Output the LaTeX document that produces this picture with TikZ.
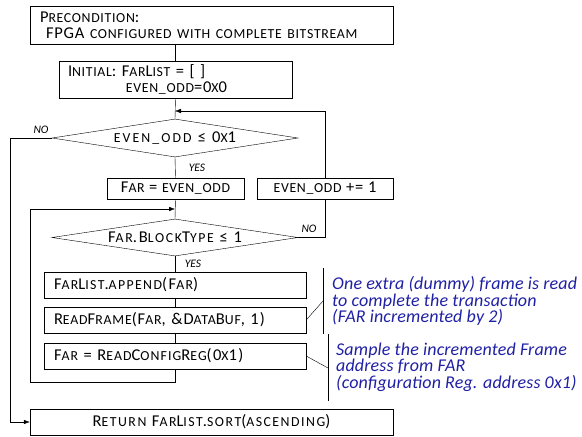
\documentclass[tikz,border=0pt]{standalone}
\usepackage{fontspec}
\setmainfont{Carlito}[LetterSpace=5]
\newfontfamily\notefont{Carlito}
\usetikzlibrary{arrows.meta,shapes.geometric}

\definecolor{notecol}{RGB}{32,32,165}
% smaller capitals for the small-caps look
\newcommand{\sm}[1]{{\fontsize{13.8}{16}\selectfont #1}}
% main text size, with some extra tracking
\newcommand{\wide}[1]{\fontsize{16.5}{16}\selectfont\addfontfeature{LetterSpace=#1}}

\begin{document}
\begin{tikzpicture}[x=1pt, y=-1pt, >={Latex[length=6pt,width=4.5pt]},
    every node/.style={font=\wide{5}},
    box/.style={draw, rectangle, inner ysep=0pt},
    lbox/.style={box, align=left, inner xsep=10pt, minimum width=#1, text width=#1-20pt},
    test/.style={draw, diamond, inner sep=0pt, shape aspect=6.5, minimum width=246pt, minimum height=38pt},
    lbl/.style={font=\notefont\fontsize{11.5}{12}\selectfont\itshape, inner sep=0pt},
    note/.style={font=\notefont\fontsize{18}{16.5}\selectfont\itshape\addfontfeature{LetterSpace=0.8}, text=notecol, align=left, anchor=west, inner sep=0pt}]
    \useasboundingbox (0,0) rectangle (582,437);

    \node[lbox=363pt, minimum height=38pt] (pre) at (211.5,25)
        {P\sm{RECONDITION}:\\\hspace*{6pt}FPGA \sm{CONFIGURED WITH COMPLETE BITSTREAM}};
    \node[box, align=left, inner xsep=9pt, minimum width=233pt, text width=215pt, minimum height=37pt] (init) at (175.5,79.5)
        {I\sm{NITIAL}: F\sm{AR}L\sm{IST} = [ ]\\\hspace*{58pt}\sm{EVEN\_ODD}=0\sm{X}0};
    \node[test, font=\wide{15}] (d1) at (175,138) {\sm{EVEN\_ODD} ≤ 0\sm{X}1};
    \node[box, minimum width=137pt, minimum height=21pt] (far) at (175.5,188.5) {F\sm{AR} = \sm{EVEN\_ODD}};
    \node[box, minimum width=136pt, minimum height=21pt] (inc) at (325,188.5) {\sm{EVEN\_ODD} += 1};
    \node[test, minimum height=37pt, font=\wide{12}] (d2) at (175,237.5) {F\sm{AR}.B\sm{LOCK}T\sm{YPE} ≤ 1};
    \node[lbox=262pt, minimum height=26pt, font=\wide{10}] (app) at (175,285) {F\sm{AR}L\sm{IST}.\sm{APPEND}(F\sm{AR})};
    \node[lbox=262pt, minimum height=26pt, font=\wide{6}] (rdf) at (175,320) {R\sm{EAD}F\sm{RAME}(F\sm{AR}, \&D\sm{ATA}B\sm{UF}, 1)};
    \node[lbox=262pt, minimum height=26pt, font=\wide{8}] (rcr) at (175,356) {F\sm{AR} = R\sm{EAD}C\sm{ONFIG}R\sm{EG}(0\sm{X}1)};
    \node[box, minimum width=363pt, minimum height=26pt, font=\wide{11}] (ret) at (211.5,422)
        {R\sm{ETURN} F\sm{AR}L\sm{IST}.\sm{SORT}(\sm{ASCENDING})};

    % branch labels
    \node[lbl] (no1) at (41,130) {NO};
    \node[lbl] (yes1) at (197,168) {YES};
    \node[lbl] (no2) at (309,229) {NO};
    \node[lbl] (yes2) at (193,264) {YES};

    % side remarks
    \node[note] (n1) at (332,301) {One extra (dummy) frame is read\\to complete the transaction\\(FAR incremented by 2)};
    \node[note] (n2) at (336,367) {Sample the incremented Frame\\address from FAR\\(configuration Reg. address 0x1)};

    \coordinate (j1) at (175,111);
    \coordinate (j2) at (175,209);
    \coordinate (l1) at (30,382);
    \coordinate (o1) at (10,0);
    \coordinate (b1) at (323,301);
    \coordinate (b2) at (328,368);

    % main flow
    \draw (init.north) -- (init.north |- pre.south);
    \draw (init.south) -- (d1.north);
    \draw (d1.south) -- (far.north);
    \draw (far.south) -- (d2.north);
    \draw (d2.south) -- (app.north);
    \draw (app.south) -- (rdf.north);
    \draw (rdf.south) -- (rcr.north);

    % loops
    \draw[->] (rcr.south) |- (l1) |- (j2);
    \draw (d2.east) -| (inc.south);
    \draw[->] (inc.north) |- (j1);
    \draw[->] (d1.west) -| (o1 |- ret.west) -- (ret.west);

    % brackets for the remarks
    \draw (323,268) -- (323,334);
    \draw (rdf.east) -- (b1);
    \draw (328,334) -- (328,401);
    \draw (rcr.east) -- (b2);
\end{tikzpicture}
\end{document}
